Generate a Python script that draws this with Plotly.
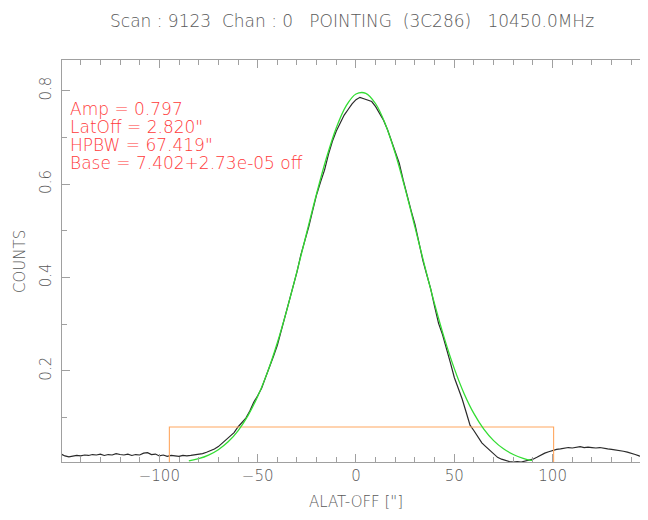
import numpy as np
import plotly.graph_objects as go

# ---- data ----
scan_x = list(np.arange(-150, 150, 2))
scan_counts = [
    0.022, 0.018, 0.016, 0.017, 0.019, 0.018, 0.020, 0.019, 0.021, 0.020,
    0.022, 0.019, 0.021, 0.020, 0.023, 0.021, 0.020, 0.022, 0.019, 0.021,
    0.020, 0.024, 0.025, 0.021, 0.022, 0.018, 0.020, 0.017, 0.019, 0.018,
    0.017, 0.019, 0.018, 0.019, 0.020,
    0.021, 0.023, 0.026, 0.029, 0.033, 0.038, 0.045, 0.052, 0.060, 0.068,
    0.080, 0.089, 0.099, 0.114, 0.133, 0.147, 0.163, 0.186, 0.211, 0.231,
    0.255, 0.286, 0.318, 0.345, 0.375, 0.412, 0.449, 0.478, 0.509, 0.544,
    0.578, 0.605, 0.630, 0.664, 0.692, 0.714, 0.731, 0.748, 0.760, 0.772,
    0.781, 0.786, 0.783, 0.780, 0.777, 0.766, 0.752, 0.737, 0.717, 0.694,
    0.668, 0.645, 0.609, 0.573, 0.544, 0.514, 0.474, 0.437, 0.406, 0.376,
    0.338, 0.302, 0.278, 0.250, 0.218, 0.186, 0.165, 0.140, 0.112, 0.084,
    0.072, 0.058, 0.046, 0.038, 0.030, 0.022, 0.015, 0.011, 0.008, 0.006,
    0.005, 0.006, 0.005, 0.007, 0.009, 0.011, 0.015, 0.020, 0.024, 0.027,
    0.030, 0.032, 0.033, 0.035, 0.036, 0.035, 0.037, 0.038, 0.036, 0.037,
    0.036, 0.035, 0.036, 0.034, 0.033, 0.032, 0.031, 0.029, 0.028, 0.026,
    0.024, 0.021, 0.018, 0.015, 0.013,
]
assert len(scan_x) == len(scan_counts)

fit_x = [-85, -80, -75, -70, -65, -60, -55, -50, -45, -40, -35, -30, -25, -20,
         -15, -10, -5, 0, 5, 10, 15, 20, 25, 30, 35, 40, 45, 50, 55, 60, 65,
         70, 75, 80, 85, 90]
fit_counts = [0.0072, 0.0121, 0.0198, 0.0314, 0.0482, 0.0718, 0.1037, 0.1453,
              0.1975, 0.2605, 0.3331, 0.4132, 0.4971, 0.5801, 0.6566, 0.7210,
              0.7678, 0.7931, 0.7947, 0.7723, 0.7281, 0.6657, 0.5904, 0.5079,
              0.4238, 0.3430, 0.2692, 0.2050, 0.1514, 0.1085, 0.0754, 0.0508,
              0.0332, 0.0211, 0.0130, 0.0077]

window_x = [-94.9, -94.9, 100.5, 100.5]
window_y = [-0.02, 0.08, 0.08, -0.02]

title_text = "Scan : 9123  Chan : 0   POINTING  (3C286)   10450.0MHz"
fit_lines = ["Amp = 0.797", "LatOff = 2.820\"", "HPBW = 67.419\"",
             "Base = 7.402+2.73e-05 off"]
x_label = "ALAT-OFF [\"]"
y_label = "COUNTS"

FONT = "DejaVu Sans"
WT = 300
GRAY = "#5a5a5a"
AXIS = "#a0a0a0"
OFF = 8  # page body margin

def keep_spaces(s):
    return s.replace(" ", "\u00a0")

fig = go.Figure()
fig.add_trace(go.Scatter(x=scan_x, y=scan_counts, mode="lines",
                         line=dict(color="#2a2a2a", width=1.2)))
fig.add_trace(go.Scatter(x=window_x, y=window_y, mode="lines",
                         line=dict(color="#ffa860", width=1.1)))
fig.add_trace(go.Scatter(x=fit_x, y=fit_counts, mode="lines",
                         line=dict(color="#33dd33", width=1.3, shape="spline")))

W, H = 648, 520
ml, mr, mt, mb = 54, 8, 52, 66
pw, ph = W - ml - mr, H - mt - mb

def py(ypix):
    return (H - mb - (ypix - OFF)) / ph

def px(xpix):
    return (xpix - OFF - ml) / pw

ann = []
ann.append(dict(text=keep_spaces(title_text), x=px(108), y=py(20.5),
                xref="paper", yref="paper", showarrow=False,
                xanchor="left", yanchor="middle",
                font=dict(family=FONT, size=17, color=GRAY, weight=WT)))
ann.append(dict(text=keep_spaces(x_label), x=px(356), y=py(501.5),
                xref="paper", yref="paper", showarrow=False,
                xanchor="center", yanchor="middle",
                font=dict(family=FONT, size=15, color=GRAY, weight=WT)))
ann.append(dict(text=y_label, x=px(20), y=py(262),
                xref="paper", yref="paper", showarrow=False, textangle=-90,
                xanchor="center", yanchor="middle",
                font=dict(family=FONT, size=15, color=GRAY, weight=WT)))
for t, yc in zip(fit_lines, [109, 127, 145, 162.5]):
    ann.append(dict(text=keep_spaces(t), x=px(68), y=py(yc),
                    xref="paper", yref="paper", showarrow=False,
                    xanchor="left", yanchor="middle",
                    font=dict(family=FONT, size=17, color="#ff3a3a", weight=WT)))

fig.update_layout(
    width=W, height=H, margin=dict(l=ml, r=mr, t=mt, b=mb, pad=0),
    paper_bgcolor="white", plot_bgcolor="white", showlegend=False,
    annotations=ann,
    xaxis=dict(range=[-149.5, 148.5], tickmode="linear", tick0=0, dtick=50,
               ticks="inside", ticklen=8, tickcolor=AXIS, tickwidth=1,
               minor=dict(dtick=10, ticks="inside", ticklen=5, tickcolor=AXIS),
               showline=True, linecolor=AXIS, linewidth=1.2, mirror="ticks",
               showgrid=False, zeroline=False, ticklabelstandoff=0,
               automargin=False,
               tickfont=dict(family=FONT, size=15, color=GRAY, weight=WT)),
    yaxis=dict(range=[0.005, 0.866], tickmode="array",
               tickvals=[0.2, 0.4, 0.6, 0.8], ticktext=["0.2", "0.4", "0.6", "0.8"],
               ticks="inside", ticklen=8, tickcolor=AXIS, tickwidth=1,
               minor=dict(tickvals=[0.1, 0.3, 0.5, 0.7], ticks="inside",
                          ticklen=5, tickcolor=AXIS),
               showline=True, linecolor=AXIS, linewidth=1.2, mirror="ticks",
               showgrid=False, zeroline=False, tickangle=-90,
               ticklabelstandoff=4, automargin=False,
               tickfont=dict(family=FONT, size=15, color=GRAY, weight=WT)),
)

fig.write_html("out.html")
